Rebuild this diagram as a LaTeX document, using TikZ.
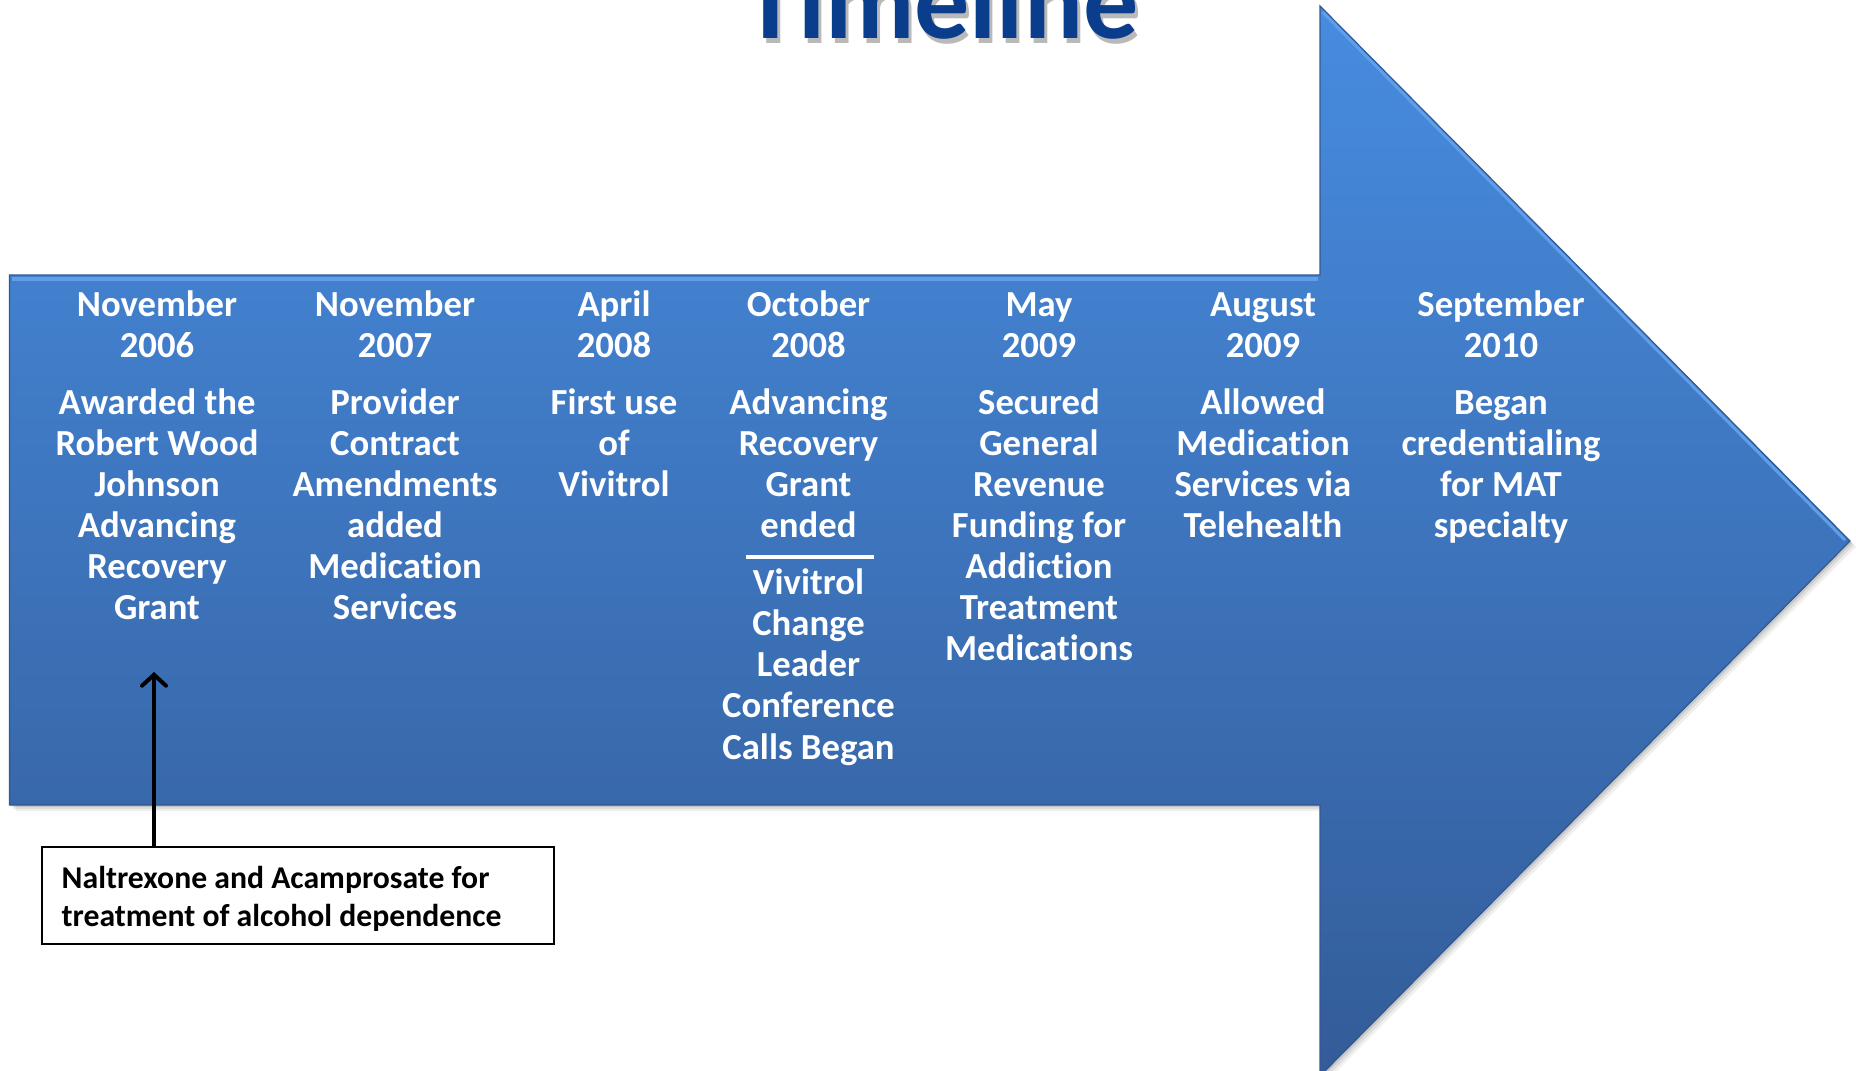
\documentclass[tikz,border=0pt]{standalone}
\usepackage{fontspec}
\setmainfont{Carlito}[Ligatures={NoCommon}]
\usetikzlibrary{arrows.meta}
\definecolor{arrowtop}{RGB}{71,140,224}
\definecolor{arrowbot}{RGB}{51,92,152}
\definecolor{arrowedge}{RGB}{48,88,148}
\definecolor{bevel}{RGB}{96,158,232}
\definecolor{titleblue}{RGB}{10,62,140}
\begin{document}
\begin{tikzpicture}[x=1pt,y=-1pt,
  col/.style={text=white, font=\bfseries\fontsize{36.7}{41.1}\selectfont, align=center, anchor=north, inner sep=0pt},
  boxtxt/.style={text=black, font=\bfseries\fontsize{31.7}{38}\selectfont, align=left, anchor=north west, inner sep=0pt}]
\useasboundingbox (0,0) rectangle (1856,1071);
% shadow of the big arrow
\foreach \o/\a in {6/0.06,4/0.08,2/0.10}{
  \fill[black, opacity=\a, shift={(\o,\o)}]
    (9.5,275) -- (1320,275) -- (1320,6) -- (1850,541) -- (1320,1076) -- (1320,805) -- (9.5,805) -- cycle;
}
% big arrow
\shade[top color=arrowtop, bottom color=arrowbot, draw=arrowedge, line width=1.2pt]
  (9.5,275) -- (1320,275) -- (1320,6) -- (1850,541) -- (1320,1076) -- (1320,805) -- (9.5,805) -- cycle;
\draw[bevel, line width=4pt] (12,278.5) -- (1318,278.5);
\draw[bevel, line width=3pt] (1322.5,12) -- (1845,540);
% title
\node[font=\bfseries\fontsize{110}{120}\selectfont, text=black!55, opacity=0.5, anchor=base, inner sep=0pt] (titleshadow) at (944,43) {Timeline};
\node[font=\bfseries\fontsize{110}{120}\selectfont, text=titleblue, anchor=base, inner sep=0pt] (title) at (941,38) {Timeline};
% columns (first baseline at 316, strut height 28.77)
\node[col] (c1) at (157,287.23) {\strut November\\2006\\[15.9pt]Awarded the\\Robert Wood\\Johnson\\Advancing\\Recovery\\Grant};
\node[col] (c2) at (395,287.23) {\strut November\\2007\\[15.9pt]Provider\\Contract\\Amendments\\added\\Medication\\Services};
\node[col] (c3) at (614,287.23) {\strut April\\2008\\[15.9pt]First use\\of\\Vivitrol};
\node[col] (c4) at (808.5,287.23) {\strut October\\2008\\[15.9pt]Advancing\\Recovery\\Grant\\ended\\[15.9pt]Vivitrol\\Change\\Leader\\Conference\\Calls Began};
\node[col] (c5) at (1039,287.23) {\strut May\\2009\\[15.9pt]Secured\\General\\Revenue\\Funding for\\Addiction\\Treatment\\Medications};
\node[col] (c6) at (1263,287.23) {\strut August\\2009\\[15.9pt]Allowed\\Medication\\Services via\\Telehealth};
\node[col] (c7) at (1501,287.23) {\strut September\\2010\\[15.9pt]Began\\credentialing\\for MAT\\specialty};
\draw[white, line width=4pt] (746,557) -- (874,557);
% note box
\node[draw=black, line width=2pt, minimum width=512pt, minimum height=97pt, inner sep=0pt, anchor=north west] (box) at (41.4,846) {};
\node[boxtxt] (boxtext) at (61.5,861.4) {\strut Naltrexone and Acamprosate for\\treatment of alcohol dependence};
\coordinate (tip) at (154,672);
\draw[black, line width=4pt, line cap=round, -{Straight Barb[length=11pt, width=24pt, line cap=round]}] (box.north -| tip) -- (tip);
\end{tikzpicture}
\end{document}
